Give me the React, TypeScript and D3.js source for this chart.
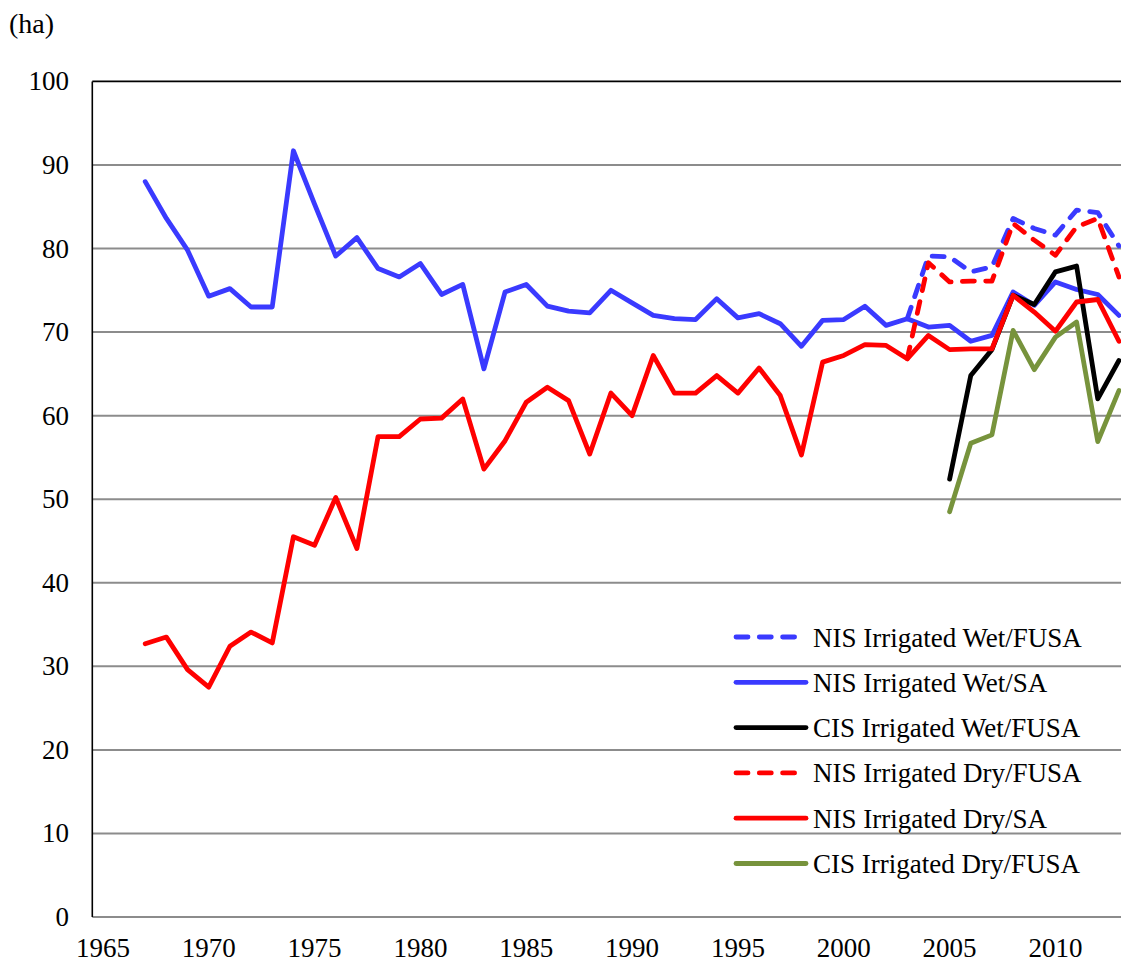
import React from "react";
import * as d3 from "d3";

const yearsLong = d3.range(1967, 2014);
const yearsRecentFusa = d3.range(2003, 2014);
const yearsCis = d3.range(2005, 2014);

const nisWetSA = [
  88.0, 83.6, 79.8, 74.3, 75.2, 73.0, 73.0, 91.7, 85.3, 79.1,
  81.3, 77.6, 76.6, 78.2, 74.5, 75.7, 65.6, 74.8, 75.7, 73.1,
  72.5, 72.3, 75.0, 73.5, 72.0, 71.6, 71.5, 74.0, 71.7, 72.2,
  71.0, 68.3, 71.4, 71.5, 73.1, 70.8, 71.6, 70.6, 70.8, 68.9,
  69.6, 74.8, 73.2, 76.0, 75.1, 74.5, 72.0,
];
const nisDrySA = [
  32.7, 33.5, 29.6, 27.5, 32.4, 34.1, 32.8, 45.5, 44.5, 50.2,
  44.1, 57.5, 57.5, 59.6, 59.7, 62.0, 53.6, 57.0, 61.6, 63.4,
  61.8, 55.4, 62.7, 60.0, 67.2, 62.7, 62.7, 64.8, 62.7, 65.7,
  62.4, 55.3, 66.4, 67.2, 68.5, 68.4, 66.8, 69.6, 67.9, 68.0,
  68.0, 74.4, 72.4, 70.1, 73.6, 73.9, 68.9,
];
const nisWetFUSA = [71.6, 79.1, 79.0, 77.2, 77.8, 83.6, 82.4, 81.6, 84.6, 84.3, 80.3];
const nisDryFUSA = [66.8, 78.3, 76.0, 76.1, 76.1, 83.0, 81.0, 79.2, 82.6, 83.6, 76.6];
const cisWetFUSA = [52.4, 64.8, 67.9, 74.4, 73.3, 77.2, 77.9, 62.0, 66.6];
const cisDryFUSA = [48.5, 56.7, 57.7, 70.2, 65.5, 69.4, 71.2, 56.9, 63.0];

const yTicks = [0, 10, 20, 30, 40, 50, 60, 70, 80, 90, 100];
const xTicks = [1965, 1970, 1975, 1980, 1985, 1990, 1995, 2000, 2005, 2010];

const series = [
  { name: "NIS Irrigated Wet/FUSA", years: yearsRecentFusa, values: nisWetFUSA, color: "#3A3AFF", dashed: true },
  { name: "NIS Irrigated Wet/SA", years: yearsLong, values: nisWetSA, color: "#3A3AFF", dashed: false },
  { name: "CIS Irrigated Wet/FUSA", years: yearsCis, values: cisWetFUSA, color: "#000000", dashed: false },
  { name: "NIS Irrigated Dry/FUSA", years: yearsRecentFusa, values: nisDryFUSA, color: "#FF0000", dashed: true },
  { name: "NIS Irrigated Dry/SA", years: yearsLong, values: nisDrySA, color: "#FF0000", dashed: false },
  { name: "CIS Irrigated Dry/FUSA", years: yearsCis, values: cisDryFUSA, color: "#77933C", dashed: false },
];

const W = 1121;
const H = 962;
const FONT = "'Liberation Serif', 'Times New Roman', serif";
const FS = 27;

export default function App() {
  const x = d3.scaleLinear().domain([1964.5, 2013.05]).range([92.3, 1120]);
  const y = d3.scaleLinear().domain([0, 100]).range([917, 81.4]);
  const line = d3
    .line<[number, number]>()
    .x((d) => x(d[0]))
    .y((d) => y(d[1]));

  const legendX1 = 736;
  const legendX2 = 806;
  const legendTextX = 813;
  const legendY0 = 637;
  const legendStep = 45.3;

  return (
    <svg
      width={W}
      height={H}
      style={{ position: "absolute", left: 0, top: 0, background: "#fff" }}
      fontFamily={FONT}
    >
      <rect x={0} y={0} width={W} height={H} fill="#fff" />
      {yTicks.map((t) => (
        <line
          key={"g" + t}
          x1={92.3}
          x2={1121}
          y1={y(t)}
          y2={y(t)}
          stroke={t === 100 ? "#000" : "#8c8c8c"}
          strokeWidth={t === 100 ? 1.6 : 2}
        />
      ))}
      <line x1={92.3} x2={92.3} y1={y(100)} y2={y(0)} stroke="#000" strokeWidth={1.6} />

      {yTicks.map((t) => (
        <text key={"yl" + t} x={69} y={y(t) + 9} textAnchor="end" fontSize={FS} fill="#000">
          {t}
        </text>
      ))}
      {xTicks.map((t) => (
        <text key={"xl" + t} x={x(t)} y={957} textAnchor="middle" fontSize={FS} fill="#000">
          {t}
        </text>
      ))}
      <text x={9} y={33} fontSize={28} fill="#000">
        (ha)
      </text>

      {series.map((s) => (
        <path
          key={s.name}
          d={line(s.years.map((yr, i) => [yr, s.values[i]] as [number, number])) || ""}
          fill="none"
          stroke={s.color}
          strokeWidth={4.8}
          strokeLinejoin="round"
          strokeLinecap="round"
          strokeDasharray={s.dashed ? "12 11.3" : undefined}
        />
      ))}

      {series.map((s, i) => {
        const ly = legendY0 + i * legendStep;
        return (
          <g key={"lg" + s.name}>
            <line
              x1={legendX1}
              x2={s.dashed ? legendX2 - 5 : legendX2}
              y1={ly}
              y2={ly}
              stroke={s.color}
              strokeWidth={4.8}
              strokeLinecap="round"
              strokeDasharray={s.dashed ? "12 11.3" : undefined}
            />
            <text x={legendTextX} y={ly + 9.5} fontSize={FS} fill="#000">
              {s.name}
            </text>
          </g>
        );
      })}
    </svg>
  );
}
